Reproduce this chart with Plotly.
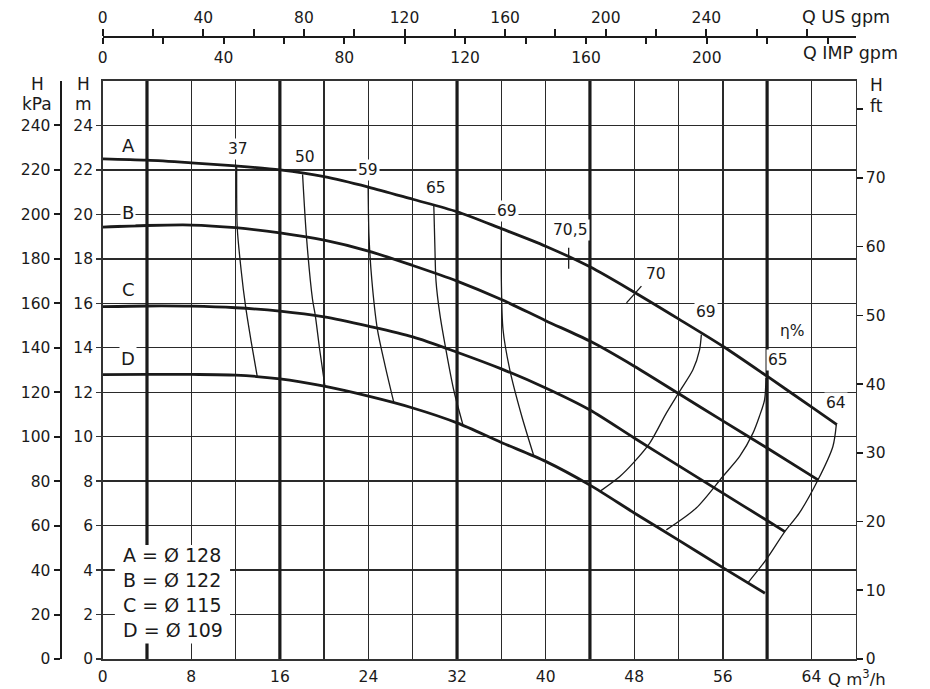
import plotly.graph_objects as go

# ---------------- data ----------------
Q_A = [0, 4, 8, 12, 16, 20, 24, 28, 32, 36, 40, 44, 48, 52, 56, 60, 64, 66.3]
H_A = [22.5, 22.44, 22.32, 22.18, 22.0, 21.7, 21.23, 20.68, 20.12, 19.36, 18.57, 17.64, 16.5, 15.3, 14.07, 12.72, 11.34, 10.54]
Q_B = [0, 4, 8, 12, 16, 20, 24, 28, 32, 36, 40, 44, 48, 52, 56, 60, 64.6]
H_B = [19.43, 19.5, 19.52, 19.4, 19.17, 18.84, 18.35, 17.7, 17.0, 16.17, 15.22, 14.3, 13.17, 11.94, 10.71, 9.49, 8.06]
Q_C = [0, 4, 8, 12, 16, 20, 24, 28, 32, 36, 40, 44, 48, 52, 56, 60, 61.6]
H_C = [15.85, 15.88, 15.87, 15.8, 15.65, 15.39, 14.97, 14.49, 13.8, 13.05, 12.19, 11.2, 9.94, 8.7, 7.46, 6.23, 5.73]
Q_D = [0, 4, 8, 12, 16, 20, 24, 28, 32, 36, 40, 44, 48, 52, 56, 59.8]
H_D = [12.79, 12.8, 12.8, 12.77, 12.6, 12.27, 11.82, 11.29, 10.62, 9.74, 8.89, 7.82, 6.57, 5.35, 4.11, 2.96]

CURVE_NAMES = ["A", "B", "C", "D"]
DIAMETERS = [128, 122, 115, 109]

# iso-efficiency lines (Q m3/h, H m)
ETA37_Q = [12.1, 12.15, 12.5, 12.9, 13.4, 13.95]
ETA37_H = [22.15, 19.4, 17.5, 15.87, 14.3, 12.72]
ETA50_Q = [18.05, 18.4, 18.95, 19.2, 19.6, 20.06]
ETA50_H = [21.8, 19.0, 16.17, 15.45, 13.9, 12.3]
ETA59_Q = [23.97, 24.05, 24.3, 24.8, 25.5, 26.3]
ETA59_H = [21.27, 19.0, 17.07, 14.85, 13.2, 11.52]
ETA65_Q = [29.9, 30.0, 30.1, 30.45, 31.0, 31.7, 32.55]
ETA65_H = [20.4, 18.5, 17.0, 15.5, 13.9, 12.1, 10.5]
ETA69_Q = [36.0, 36.0, 36.15, 36.76, 37.8, 38.95]
ETA69_H = [19.32, 17.0, 14.82, 13.02, 11.0, 9.11]
ETA705_Q = [42.08, 42.08]
ETA705_H = [18.5, 17.55]
ETA70_Q = [47.3, 48.65]
ETA70_H = [16.02, 16.77]
ETA69R_Q = [54.06, 53.9, 53.3, 52.1, 50.9, 49.4, 47.9, 46.7, 44.9]
ETA69R_H = [14.59, 13.91, 13.01, 12.04, 11.06, 9.71, 8.81, 8.21, 7.54]
ETA65R_Q = [59.9, 59.77, 59.3, 58.72, 57.52, 56.0, 53.6, 50.9]
ETA65R_H = [12.64, 11.66, 10.91, 10.16, 9.11, 8.21, 6.79, 5.81]
ETA64_Q = [66.25, 65.94, 64.6, 62.9, 61.6, 59.9, 58.3]
ETA64_H = [10.54, 9.56, 8.06, 6.56, 5.73, 4.46, 3.45]

EFF_LABEL_TEXT = ["37", "50", "59", "65", "69", "70,5", "70", "69", "η%", "65", "64"]
EFF_LABEL_Q = [12.2, 18.26, 24.0, 30.1, 36.5, 42.2, 50.0, 54.5, 62.3, 61.0, 66.25]
EFF_LABEL_H = [22.93, 22.6, 22.0, 21.2, 20.15, 19.3, 17.3, 15.6, 14.74, 13.47, 11.5]
CURVE_LABEL_Q = [2.3, 2.3, 2.3, 2.3]
CURVE_LABEL_H = [23.1, 20.1, 16.6, 13.5]
LEGEND_ROW_H = [4.68, 3.55, 2.42, 1.3]

# axes
Q_RANGE = [0, 68]
H_RANGE = [0, 26]
Q_TICKS = [0, 4, 8, 12, 16, 20, 24, 28, 32, 36, 40, 44, 48, 52, 56, 60, 64]
Q_TICK_TEXT = ["0", "", "8", "", "16", "", "24", "", "32", "", "40", "", "48", "", "56", "", "64"]
THICK_Q = [4, 16, 32, 44, 60]
H_M_TICKS = [0, 2, 4, 6, 8, 10, 12, 14, 16, 18, 20, 22, 24]
H_KPA_TICKS = [0, 20, 40, 60, 80, 100, 120, 140, 160, 180, 200, 220, 240]
KPA_RANGE = [0, 260]
H_FT_TICKS = [0, 10, 20, 30, 40, 50, 60, 70, 80]
H_FT_TEXT = ["0", "10", "20", "30", "40", "50", "60", "70", " "]
FT_RANGE = [0, 84.1]
US_PER_M3H = 4.40287
IMP_PER_M3H = 3.66615
US_TICKS = [0, 20, 40, 60, 80, 100, 120, 140, 160, 180, 200, 220, 240, 260, 280]
US_TEXT = ["0", " ", "40", " ", "80", " ", "120", " ", "160", " ", "200", " ", "240", " ", " "]
IMP_TICKS = [0, 20, 40, 60, 80, 100, 120, 140, 160, 180, 200, 220, 240]
IMP_TEXT = ["0", " ", "40", " ", "80", " ", "120", " ", "160", " ", "200", " ", " "]

# ---------------- layout geometry ----------------
W, HGT = 930, 689
XD = [102.7 / W, 855.7 / W]
YD = [(HGT - 659) / HGT, (HGT - 81) / HGT]
KPA_POS = 60.5 / W
TOP_POS = (HGT - 37) / HGT

INK = "#1a1a1a"
GRID = "#2a2a2a"
FONT = "DejaVu Sans, Liberation Sans, Arial, sans-serif"
TICK_SIZE = 15.5

fig = go.Figure()

# thick grid lines
for q in THICK_Q:
    fig.add_trace(go.Scatter(x=[q, q], y=H_RANGE, mode="lines",
                             line=dict(color=INK, width=3.2), hoverinfo="skip"))

# iso efficiency lines
for qs, hs in [(ETA37_Q, ETA37_H), (ETA50_Q, ETA50_H), (ETA59_Q, ETA59_H),
               (ETA65_Q, ETA65_H), (ETA69_Q, ETA69_H), (ETA705_Q, ETA705_H),
               (ETA70_Q, ETA70_H), (ETA69R_Q, ETA69R_H), (ETA65R_Q, ETA65R_H),
               (ETA64_Q, ETA64_H)]:
    fig.add_trace(go.Scatter(x=qs, y=hs, mode="lines",
                             line=dict(color=INK, width=1.3, shape="spline", smoothing=0.8),
                             hoverinfo="skip"))

# pump curves
for qs, hs in [(Q_A, H_A), (Q_B, H_B), (Q_C, H_C), (Q_D, H_D)]:
    fig.add_trace(go.Scatter(x=qs, y=hs, mode="lines",
                             line=dict(color=INK, width=2.8, shape="spline", smoothing=0.8),
                             hoverinfo="skip"))

# helper (invisible) traces so that the extra axes get drawn
fig.add_trace(go.Scatter(x=[Q_RANGE[0] * US_PER_M3H, Q_RANGE[1] * US_PER_M3H], y=H_RANGE,
                         xaxis="x2", yaxis="y", mode="lines", opacity=0, hoverinfo="skip"))
fig.add_trace(go.Scatter(x=[Q_RANGE[0] * IMP_PER_M3H, Q_RANGE[1] * IMP_PER_M3H], y=H_RANGE,
                         xaxis="x3", yaxis="y", mode="lines", opacity=0, hoverinfo="skip"))
fig.add_trace(go.Scatter(x=Q_RANGE, y=KPA_RANGE, xaxis="x", yaxis="y2",
                         mode="lines", opacity=0, hoverinfo="skip"))
fig.add_trace(go.Scatter(x=Q_RANGE, y=FT_RANGE, xaxis="x", yaxis="y3",
                         mode="lines", opacity=0, hoverinfo="skip"))

annotations = []
for t, q, h in zip(EFF_LABEL_TEXT, EFF_LABEL_Q, EFF_LABEL_H):
    annotations.append(dict(x=q, y=h, xref="x", yref="y", text=t, showarrow=False,
                            font=dict(size=15.5, color=INK), bgcolor="white", borderpad=1))
for t, q, h in zip(CURVE_NAMES, CURVE_LABEL_Q, CURVE_LABEL_H):
    annotations.append(dict(x=q, y=h, xref="x", yref="y", text=t, showarrow=False,
                            font=dict(size=18, color=INK), bgcolor="white", borderpad=1))
for t, d, h in zip(CURVE_NAMES, DIAMETERS, LEGEND_ROW_H):
    annotations.append(dict(x=1.66, y=h, xref="x", yref="y", xanchor="left",
                            text=f"{t} = Ø {d}", showarrow=False,
                            font=dict(size=19, color=INK)))

# axis captions
def cap(text, px, py, anchor="center", size=17):
    annotations.append(dict(x=px / W, y=(HGT - py) / HGT, xref="paper", yref="paper",
                            xanchor=anchor, yanchor="middle", text=text, showarrow=False,
                            font=dict(size=size, color=INK)))

cap("H", 37, 84)
cap("kPa", 37, 104)
cap("H", 83, 84)
cap("m", 83, 104)
cap("H", 868, 85, "left")
cap("ft", 868, 106, "left")
cap("Q US gpm", 800, 17, "left", 17.5)
cap("Q IMP gpm", 801, 53, "left", 17.5)
cap("Q m<sup>3</sup>/h", 826, 678, "left", 16.5)

fig.update_layout(
    width=W, height=HGT,
    margin=dict(l=0, r=0, t=0, b=0),
    paper_bgcolor="white", plot_bgcolor="white",
    showlegend=False, hovermode=False,
    font=dict(family=FONT, size=TICK_SIZE, color=INK),
    xaxis=dict(domain=XD, range=Q_RANGE, tickvals=Q_TICKS, ticktext=Q_TICK_TEXT,
               ticks="", showgrid=True, gridcolor=GRID, gridwidth=1.4,
               showline=True, linecolor="#333", linewidth=1.6, mirror=True,
               zeroline=False, ticklabelstandoff=3, automargin=False),
    yaxis=dict(domain=YD, range=H_RANGE, tickvals=H_M_TICKS,
               ticks="outside", ticklen=5, tickcolor="#333", tickwidth=1.4,
               showgrid=True, gridcolor=GRID, gridwidth=1.4,
               showline=True, linecolor="#333", linewidth=1.6, mirror=True,
               zeroline=False, automargin=False),
    yaxis2=dict(overlaying="y", anchor="free", position=KPA_POS, side="left",
                range=KPA_RANGE, tickvals=H_KPA_TICKS, ticks="outside", ticklen=6,
                tickwidth=2, tickcolor=INK, showline=True, linecolor=INK, linewidth=2.2,
                showgrid=False, zeroline=False, automargin=False),
    yaxis3=dict(overlaying="y", anchor="x", side="right",
                range=FT_RANGE, tickvals=H_FT_TICKS, ticktext=H_FT_TEXT,
                ticks="outside", ticklen=6, tickwidth=1.6, tickcolor=INK,
                showline=False, showgrid=False, zeroline=False, automargin=False),
    xaxis2=dict(overlaying="x", anchor="free", position=TOP_POS, side="top",
                range=[Q_RANGE[0] * US_PER_M3H, Q_RANGE[1] * US_PER_M3H],
                tickvals=US_TICKS, ticktext=US_TEXT, ticks="outside", ticklen=7,
                tickwidth=2, tickcolor=INK, showline=True, linecolor=INK, linewidth=2,
                showgrid=False, zeroline=False, automargin=False),
    xaxis3=dict(overlaying="x", anchor="free", position=TOP_POS, side="bottom",
                range=[Q_RANGE[0] * IMP_PER_M3H, Q_RANGE[1] * IMP_PER_M3H],
                tickvals=IMP_TICKS, ticktext=IMP_TEXT, ticks="outside", ticklen=6,
                tickwidth=2, tickcolor=INK, showline=True, linecolor=INK, linewidth=2,
                showgrid=False, zeroline=False, automargin=False),
    annotations=annotations,
    shapes=[dict(type="rect", xref="x", yref="y", x0=1.1, x1=11.5, y0=0.7, y1=5.13,
                 fillcolor="white", line=dict(width=0), layer="above")],
)

fig.write_html("out.html", config={"displayModeBar": False, "staticPlot": True},
               post_script="document.body.style.margin='0';document.body.style.overflow='hidden';")
